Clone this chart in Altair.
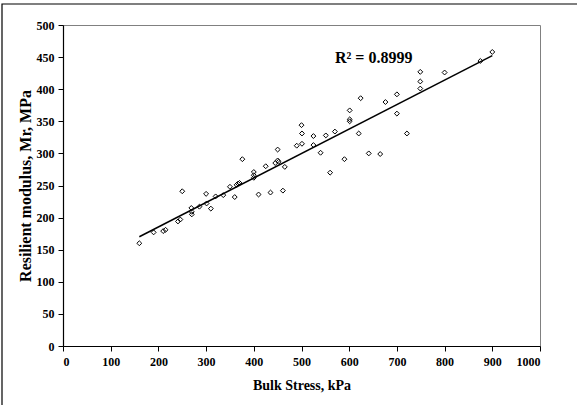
import altair as alt
import pandas as pd

bulk_stress = [160, 190, 210, 215, 241, 246, 250, 269, 270, 270, 286, 300, 301, 310, 320,
               336, 350, 360, 364, 367, 370, 376, 400, 400, 400, 410, 425, 435, 445, 450,
               452, 450, 461, 465, 490, 500, 501, 501, 525, 525, 540, 551, 560, 570, 590,
               601, 601, 601, 620, 624, 641, 665, 676, 700, 700, 721, 749, 749, 749, 800,
               875, 900]
modulus = [160, 177, 179, 181, 194, 197, 241, 215, 209, 205, 217, 237, 222, 214, 233,
           235, 248, 232, 251, 253, 254, 291, 271, 266, 262, 236, 280, 239, 285, 289,
           287, 306, 242, 279, 312, 344, 331, 315, 327, 313, 301, 328, 270, 334, 291,
           367, 353, 350, 331, 386, 300, 299, 380, 392, 362, 331, 427, 412, 401, 426,
           444, 458]
x_ticks = [0, 100, 200, 300, 400, 500, 600, 700, 800, 900, 1000]
y_ticks = [0, 50, 100, 150, 200, 250, 300, 350, 400, 450, 500]
r2_label = ["R² = 0.8999"]

df = pd.DataFrame({"x": bulk_stress, "y": modulus})

FONT = "Liberation Serif"

xs = alt.Scale(domain=[0, 1000], nice=False)
ys = alt.Scale(domain=[0, 500], nice=False)

x_axis = alt.Axis(values=x_ticks, format="d", title="Bulk Stress, kPa", grid=False,
                  tickSize=5, labelPadding=5, titlePadding=11, titleFontSize=14,
                  labelOverlap=False)
y_axis = alt.Axis(values=y_ticks, format="d", title="Resilient modulus, Mr, MPa",
                  grid=False, tickSize=5, labelPadding=4, titlePadding=3,
                  titleFontSize=16, labelOverlap=False)

base = alt.Chart(df)

points = base.mark_point(shape="diamond", filled=False, color="black",
                         strokeWidth=1, size=24, opacity=1).encode(
    x=alt.X("x:Q", scale=xs, axis=x_axis),
    y=alt.Y("y:Q", scale=ys, axis=y_axis),
)

trend = base.transform_regression("x", "y", extent=[160, 900]).mark_line(
    color="black", strokeWidth=1.5).encode(
    x=alt.X("x:Q", scale=xs, axis=x_axis),
    y=alt.Y("y:Q", scale=ys, axis=y_axis),
)

r2 = alt.Chart(pd.DataFrame({"t": r2_label})).mark_text(
    font=FONT, fontSize=16, fontWeight="bold", align="left", baseline="alphabetic",
    color="black").encode(text="t:N", x=alt.value(272), y=alt.value(38))

frame = alt.Chart(pd.DataFrame({"t": r2_label})).mark_rect(
    fill=None, stroke="black", strokeWidth=1.2, clip=False).encode(
    x=alt.value(-61), x2=alt.value(560), y=alt.value(-21), y2=alt.value(420))

chart = alt.layer(points, trend, r2, frame).properties(
    width=477, height=321,
    padding={"left": 63, "top": 25, "right": 37, "bottom": 59},
    autosize=alt.AutoSizeParams(type="none"),
    background="white",
).configure_view(stroke="#808080", strokeWidth=1).configure_axis(
    domainColor="black", tickColor="black", labelColor="black", titleColor="black",
    labelFont=FONT, titleFont=FONT, labelFontSize=12,
    labelFontWeight="bold", titleFontWeight="bold", domainWidth=1.2, tickWidth=1,
)

chart.save("out.html", embed_options={"renderer": "svg", "actions": False})
